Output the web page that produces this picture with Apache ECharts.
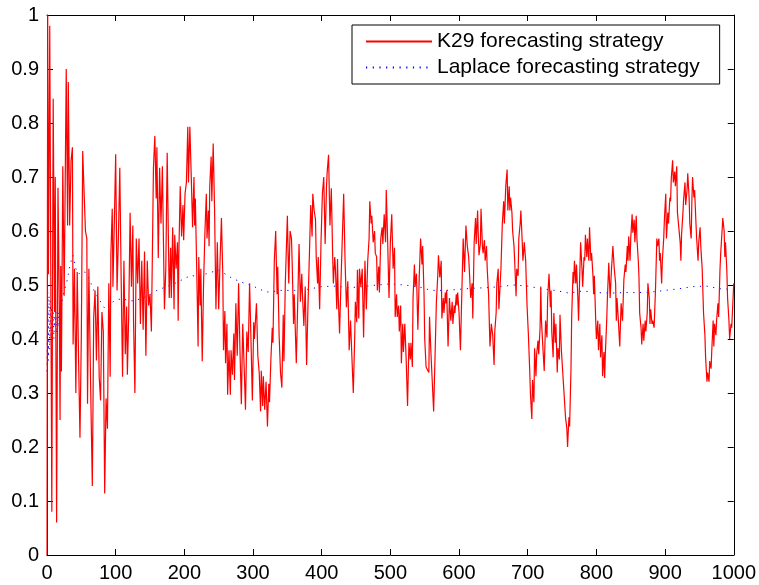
<!DOCTYPE html>
<html>
<head>
<meta charset="utf-8">
<script src="https://cdn.jsdelivr.net/npm/echarts@6/dist/echarts.min.js"></script>
<style>html,body{margin:0;padding:0;background:#fff;}#c{width:759px;height:585px;}</style>
</head>
<body>
<div id="c"></div>
<script>
const k29Pairs = [
[0,0.00],[1,1.00],[2,0.52],[4,0.98],[7,0.08],[9,0.845],[11,0.45],[12,0.70],[14,0.06],[16,0.68],[18,0.45],[19,0.25],[20,0.535],[21,0.34],[23,0.72],[25,0.48],[28,0.90],[30,0.61],[31,0.876],[33,0.61],[35,0.73],[37,0.755],[38,0.39],[40,0.53],[42,0.30],[44,0.524],[46,0.36],[48,0.217],[50,0.407],[52,0.748],[54,0.672],[56,0.60],[58,0.586],[59,0.28],[61,0.53],[62,0.44],[64,0.276],[66,0.128],[68,0.44],[70,0.49],[72,0.36],[74,0.497],[76,0.33],[78,0.286],[80,0.45],[82,0.414],[84,0.114],[86,0.29],[88,0.234],[90,0.503],[92,0.33],[93,0.557],[95,0.641],[96,0.497],[98,0.614],[100,0.742],[102,0.49],[104,0.59],[106,0.717],[108,0.51],[110,0.33],[112,0.545],[114,0.372],[116,0.46],[117,0.334],[119,0.445],[121,0.634],[123,0.497],[125,0.61],[126,0.434],[128,0.30],[130,0.586],[132,0.503],[134,0.586],[136,0.428],[138,0.545],[140,0.417],[142,0.562],[144,0.369],[146,0.545],[148,0.462],[150,0.483],[152,0.414],[154,0.614],[155,0.717],
[157,0.776],[159,0.66],[160,0.755],[162,0.55],[164,0.717],[166,0.614],[168,0.72],[171,0.455],[173,0.53],[175,0.745],[178,0.476],[180,0.569],[181,0.476],[183,0.607],[185,0.455],[186,0.593],[188,0.53],[190,0.579],[191,0.434],[192,0.559],[194,0.683],[196,0.59],[198,0.648],[199,0.583],[201,0.669],[203,0.69],[205,0.793],[206,0.69],[208,0.793],[210,0.703],[212,0.607],[214,0.70],[215,0.61],[216,0.66],[218,0.53],[220,0.386],[221,0.552],[223,0.462],[224,0.53],[226,0.359],[228,0.503],[230,0.60],[232,0.669],[233,0.586],[235,0.638],[236,0.572],[237,0.683],[239,0.738],[240,0.655],[242,0.762],[244,0.641],[246,0.455],[248,0.579],[250,0.455],[252,0.545],[254,0.624],[256,0.517],[257,0.379],[259,0.452],[260,0.355],[262,0.428],[263,0.297],[265,0.379],[267,0.297],[268,0.379],[270,0.334],[272,0.41],[273,0.324],[275,0.466],[277,0.369],[279,0.503],[281,0.379],[283,0.279],[285,0.428],[287,0.352],[289,0.269],[291,0.414],[293,0.376],[295,0.503],[297,0.40],[299,0.286],[301,0.431],[302,0.40],[305,0.466],[307,0.369],[309,0.338],[311,0.266],[312,0.341],[314,0.276],[315,0.331],[317,0.269],[319,0.321],[321,0.238],[323,0.317],[324,0.283],
[326,0.362],[328,0.421],[329,0.393],[331,0.545],[333,0.60],[335,0.483],[336,0.534],[338,0.407],[340,0.338],[342,0.31],[344,0.445],[345,0.359],[347,0.503],[350,0.628],[352,0.503],[354,0.60],[356,0.586],[357,0.541],[359,0.428],[360,0.483],[363,0.355],[365,0.462],[367,0.576],[369,0.469],[371,0.521],[372,0.483],[374,0.424],[376,0.497],[378,0.352],[380,0.462],[382,0.552],[384,0.648],[386,0.59],[387,0.669],[389,0.638],[391,0.621],[392,0.552],[394,0.503],[395,0.552],[397,0.455],[399,0.579],[401,0.669],[403,0.70],[405,0.576],[407,0.683],[408,0.71],[410,0.741],[412,0.61],[414,0.679],[416,0.552],[417,0.503],[419,0.552],[420,0.53],[422,0.455],[423,0.548],[424,0.483],[426,0.41],[428,0.503],[430,0.586],[432,0.669],[434,0.545],[436,0.459],[438,0.507],[440,0.379],[442,0.434],[444,0.366],[446,0.30],[448,0.40],[449,0.469],[451,0.431],[452,0.528],[454,0.438],[455,0.53],[457,0.497],[459,0.53],[461,0.403],[463,0.545],[465,0.455],[467,0.545],[469,0.586],[470,0.655],[472,0.614],[473,0.628],[475,0.579],[477,0.60],[478,0.559],[480,0.552],[481,0.49],[483,0.534],[484,0.486],[486,0.586],[488,0.607],[489,0.576],[491,0.631],
[493,0.579],[494,0.676],[496,0.583],[498,0.476],[500,0.579],[502,0.631],[504,0.53],[506,0.569],[507,0.441],[509,0.483],[510,0.441],[512,0.462],[513,0.414],[515,0.462],[516,0.355],[518,0.428],[519,0.376],[521,0.428],[523,0.362],[525,0.276],[527,0.393],[529,0.362],[530,0.393],[532,0.348],[533,0.476],[535,0.538],[536,0.497],[538,0.521],[540,0.417],[542,0.514],[544,0.586],[546,0.538],[547,0.572],[549,0.483],[550,0.40],[552,0.348],[554,0.345],[556,0.338],[557,0.441],[559,0.376],[561,0.321],[563,0.266],[565,0.366],[567,0.469],[569,0.517],[570,0.555],[572,0.514],[574,0.545],[575,0.438],[577,0.476],[578,0.448],[580,0.486],[581,0.466],[582,0.49],[584,0.386],[586,0.476],[588,0.434],[590,0.469],[591,0.428],[593,0.462],[594,0.448],[596,0.483],[597,0.462],[598,0.486],[600,0.448],[602,0.379],[604,0.483],[606,0.586],[608,0.524],[610,0.61],[612,0.572],[614,0.552],[616,0.555],[617,0.476],[619,0.503],[620,0.438],[622,0.579],[624,0.624],[625,0.576],[627,0.638],[628,0.593],[629,0.555],[631,0.576],[632,0.641],[634,0.572],[635,0.559],[637,0.583],[638,0.545],[640,0.572],[641,0.53],[643,0.483],[644,0.434],[645,0.386],[647,0.428],[649,0.407],[651,0.352],[652,0.414],[654,0.448],[655,0.503],[657,0.53],[658,0.455],
[661,0.53],[663,0.614],[665,0.655],[666,0.614],[668,0.683],[670,0.714],[671,0.638],[673,0.683],[674,0.638],[675,0.662],[677,0.634],[678,0.60],[680,0.572],[681,0.545],[683,0.479],[684,0.53],[686,0.517],[687,0.586],[689,0.614],[690,0.638],[692,0.579],[693,0.545],[695,0.579],[697,0.545],[699,0.462],[701,0.407],[703,0.338],[704,0.297],[706,0.252],[707,0.324],[709,0.283],[710,0.383],[712,0.331],[713,0.372],[715,0.397],[716,0.372],[718,0.421],[719,0.497],[720,0.434],[722,0.386],[724,0.341],[726,0.434],[728,0.403],[729,0.476],[731,0.521],[733,0.459],[734,0.49],[735,0.414],[737,0.366],[738,0.448],[740,0.393],[741,0.428],[743,0.338],[744,0.383],[746,0.362],[747,0.445],[749,0.379],[751,0.338],[753,0.297],[755,0.255],[757,0.234],[758,0.20],[760,0.255],[761,0.238],[763,0.345],[764,0.441],[766,0.524],[767,0.503],[768,0.545],[770,0.503],[771,0.538],[773,0.476],[774,0.434],[776,0.53],[777,0.579],[779,0.53],[780,0.497],[782,0.552],[783,0.545],[784,0.593],[786,0.552],[787,0.586],[789,0.545],[790,0.607],[792,0.545],[793,0.559],[795,0.517],[796,0.483],[797,0.517],[799,0.434],[800,0.40],[802,0.434],[803,0.379],[805,0.428],[806,0.366],[808,0.407],[809,0.331],[811,0.376],[812,0.328],[813,0.372],[815,0.434],[816,0.476],[818,0.541],[820,0.476],[822,0.53],[824,0.572],
[826,0.53],[828,0.503],[829,0.434],[830,0.476],[832,0.434],[834,0.386],[836,0.466],[838,0.434],[840,0.51],[842,0.538],[843,0.524],[845,0.572],[846,0.545],[847,0.59],[849,0.545],[850,0.586],[852,0.631],[853,0.597],[855,0.621],[856,0.579],[858,0.628],[859,0.586],[861,0.545],[862,0.514],[863,0.448],[865,0.421],[866,0.39],[868,0.428],[869,0.397],[871,0.434],[872,0.414],[874,0.448],[875,0.503],[877,0.476],[878,0.428],[879,0.455],[881,0.428],[882,0.434],[884,0.421],[886,0.49],[888,0.586],[889,0.572],[891,0.586],[892,0.545],[893,0.559],[895,0.503],[896,0.545],[898,0.586],[899,0.621],[901,0.669],[902,0.586],[904,0.634],[905,0.614],[907,0.662],[908,0.655],[909,0.697],[911,0.731],[912,0.69],[914,0.71],[915,0.683],[917,0.72],[918,0.634],[920,0.631],[922,0.579],[923,0.545],[924,0.593],[926,0.634],[927,0.659],[929,0.69],[930,0.648],[932,0.676],[933,0.707],[935,0.662],[936,0.614],[938,0.586],[939,0.655],[940,0.70],[942,0.662],[943,0.676],[945,0.614],[946,0.586],[948,0.545],[949,0.579],[951,0.607],[952,0.572],[954,0.53],[955,0.49],[956,0.448],[958,0.407],[959,0.366],[961,0.321],[962,0.338],[964,0.321],[965,0.359],[967,0.345],[968,0.379],[970,0.434],[971,0.386],[972,0.428],[974,0.407],[975,0.434],[977,0.466],[978,0.441],[980,0.53],[981,0.559],[983,0.60],[984,0.624],[986,0.60],[987,0.552],[988,0.579],[990,0.524],[991,0.476],[993,0.434],[994,0.40],[996,0.428],[997,0.421],[999,0.476],[1000,0.503]
];

const lapX = [0,1,2,3,4,5,6,7,8,9,10,11,12,13,14,15,16,17,18,19,20,22,25,28,31,34,38,42,46,50,55,60,65,70,75,80,85,90,95,100,110,120,130,140,150,160,170,180,190,200,210,220,230,240,250,260,270,280,290,300,310,320,330,340,360,380,400,420,440,460,480,500,520,540,560,580,600,620,640,660,680,700,720,740,760,780,800,820,840,860,880,900,920,940,960,980,1000];
const lapY = [0.34,0.50,0.36,0.48,0.38,0.47,0.40,0.46,0.41,0.45,0.40,0.44,0.42,0.45,0.41,0.44,0.42,0.45,0.43,0.46,0.44,0.47,0.49,0.50,0.52,0.54,0.555,0.53,0.52,0.525,0.524,0.515,0.50,0.485,0.475,0.465,0.455,0.46,0.468,0.472,0.475,0.47,0.472,0.476,0.482,0.49,0.495,0.50,0.505,0.512,0.518,0.515,0.52,0.524,0.527,0.52,0.512,0.507,0.502,0.498,0.492,0.487,0.488,0.49,0.49,0.492,0.497,0.498,0.495,0.497,0.50,0.502,0.50,0.497,0.49,0.49,0.492,0.494,0.495,0.497,0.50,0.498,0.493,0.49,0.485,0.489,0.486,0.485,0.486,0.486,0.487,0.49,0.493,0.497,0.498,0.493,0.492];

const xTicks = ['0','100','200','300','400','500','600','700','800','900','1000'];
const yTicks = ['0','0.1','0.2','0.3','0.4','0.5','0.6','0.7','0.8','0.9','1'];
const seriesNames = ['K29 forecasting strategy','Laplace forecasting strategy'];

const FONT = '"Liberation Sans", Arial, Helvetica, sans-serif';
const chart = echarts.init(document.getElementById('c'), null, {renderer:'canvas'});

const axisLine = {show:true, onZero:false, lineStyle:{color:'#000', width:1}};
const tick = {show:true, inside:true, length:6, lineStyle:{color:'#000', width:1}};

chart.setOption({
  animation:false,
  backgroundColor:'#fff',
  grid:{left:47, right:24, top:15, bottom:30, containLabel:false},
  legend:{
    left:352, top:25, orient:'vertical',
    itemWidth:66, itemHeight:14, itemGap:5,
    padding:[6,20,6,13],
    borderColor:'#000', borderWidth:1, backgroundColor:'#fff',
    itemStyle:{opacity:0, borderWidth:0},
    textStyle:{fontSize:21, color:'#000', fontFamily:FONT},
    data:seriesNames
  },
  xAxis:[
    {type:'value', min:0, max:1000, interval:100, position:'bottom',
     axisLine:axisLine, axisTick:tick, splitLine:{show:false},
     axisLabel:{color:'#000', fontSize:20, fontFamily:FONT, margin:8,
       formatter:(v,i)=>xTicks[i]}},
    {type:'value', min:0, max:1000, interval:100, position:'top',
     axisLine:axisLine, axisTick:tick, splitLine:{show:false}, axisLabel:{show:false}}
  ],
  yAxis:[
    {type:'value', min:0, max:1, interval:0.1, position:'left',
     axisLine:axisLine, axisTick:tick, splitLine:{show:false},
     axisLabel:{color:'#000', fontSize:20, fontFamily:FONT, margin:8,
       formatter:(v,i)=>yTicks[i]}},
    {type:'value', min:0, max:1, interval:0.1, position:'right',
     axisLine:axisLine, axisTick:tick, splitLine:{show:false}, axisLabel:{show:false}}
  ],
  series:[
    {name:seriesNames[0], type:'line', xAxisIndex:0, yAxisIndex:0,
     data:k29Pairs, symbol:'none', showSymbol:false,
     lineStyle:{color:'#ff0000', width:1.2}, itemStyle:{color:'#ff0000'}, z:3},
    {name:seriesNames[1], type:'line', xAxisIndex:0, yAxisIndex:0,
     data:lapX.map((x,i)=>[x, lapY[i]]), symbol:'none', showSymbol:false,
     lineStyle:{color:'#0000ff', width:1, type:[1.2,5.5]}, itemStyle:{color:'#0000ff'}, z:2}
  ]
});
</script>
</body>
</html>
